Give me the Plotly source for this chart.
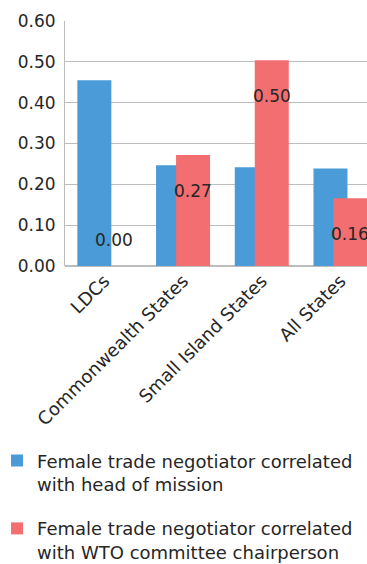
import plotly.graph_objects as go

categories = ["LDCs", "Commonwealth States", "Small Island States", "All States"]
head_of_mission = [0.455, 0.247, 0.242, 0.239]
wto_chair = [0.0, 0.272, 0.504, 0.166]
wto_labels = ["0.00", "0.27", "0.50", "0.16"]
series_names = [
    "Female trade negotiator correlated<br>with head of mission",
    "Female trade negotiator correlated<br>with WTO committee chairperson",
]
y_ticks = [0.0, 0.1, 0.2, 0.3, 0.4, 0.5, 0.6]

FONT = "DejaVu Sans"
TXT = "#262626"
BAR_W = 0.432

fig = go.Figure()
fig.add_trace(go.Bar(x=categories, y=head_of_mission, name=series_names[0], legendgroup="a",
                     width=BAR_W, offset=-0.343,
                     marker=dict(color="#4a9bd7", line=dict(width=0))))
fig.add_trace(go.Bar(x=categories, y=wto_chair, name=series_names[1], legendgroup="b",
                     width=BAR_W, offset=-0.089,
                     marker=dict(color="#f26e71", line=dict(width=0))))

for c, v, lab in zip(categories, wto_chair, wto_labels):
    fig.add_annotation(x=c, y=v, text=lab, showarrow=False, xshift=10,
                       yshift=26 if v == 0 else -36,
                       font=dict(family=FONT, size=17, color=TXT))

fig.update_layout(
    width=367, height=564,
    margin=dict(l=65, r=0, t=21, b=298, autoexpand=False),
    paper_bgcolor="white", plot_bgcolor="white",
    barmode="overlay",
    font=dict(family=FONT, color=TXT),
    showlegend=True,
    legend=dict(x=-0.225, xanchor="left", y=-0.72, yanchor="top",
                bgcolor="rgba(0,0,0,0)",
                font=dict(family=FONT, size=18, color=TXT),
                tracegroupgap=18, itemwidth=30, valign="top"),
    xaxis=dict(range=[-0.5, 3.337], tickangle=-45, showgrid=False, automargin=False,
               tickfont=dict(family=FONT, size=18, color=TXT),
               showline=False, ticks=""),
    yaxis=dict(range=[0, 0.6], tickvals=y_ticks, tickformat=".2f", automargin=False,
               showgrid=True, gridcolor="#bdbdbd", gridwidth=1,
               showline=True, linecolor="#bdbdbd", linewidth=1,
               zeroline=True, zerolinecolor="#bdbdbd", ticklabelstandoff=5,
               tickfont=dict(family=FONT, size=17, color=TXT), ticks=""),
)

fig.write_html("out.html", config={"displayModeBar": False},
               post_script="document.body.style.margin='0';")
